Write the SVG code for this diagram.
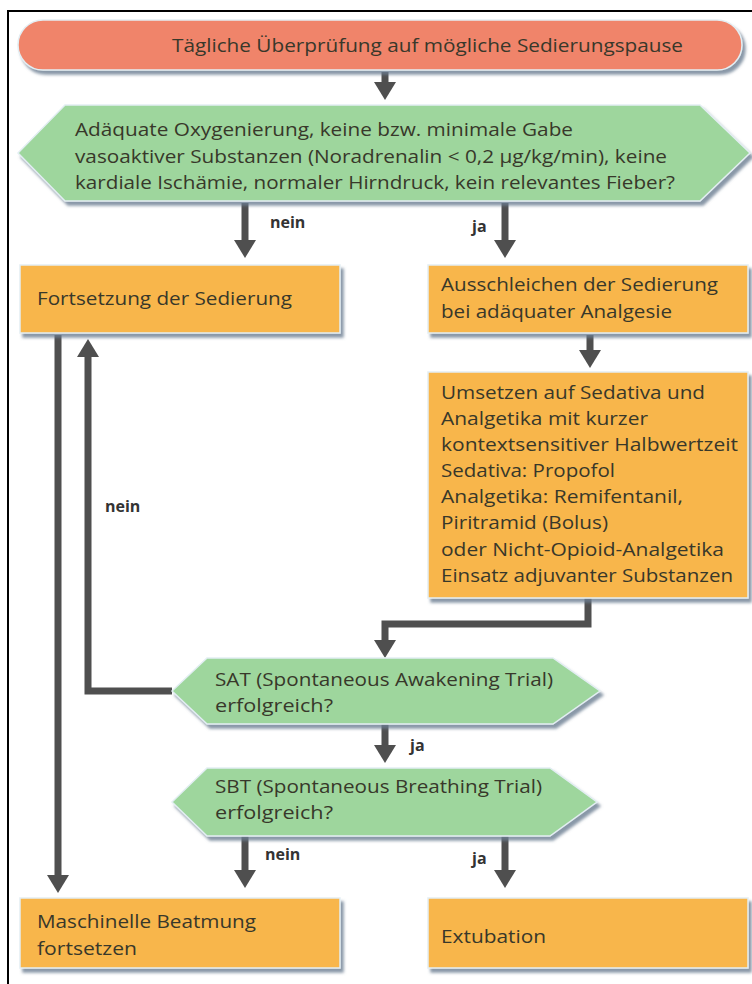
<svg xmlns="http://www.w3.org/2000/svg" width="752" height="984" viewBox="0 0 752 984">
<style>
.t{font-family:"Open Sans","Liberation Sans",sans-serif;font-size:19px;fill:#38382a;}
.tt{font-family:"Open Sans","Liberation Sans",sans-serif;font-size:19px;fill:#38382a;}
.lb{font-family:"Open Sans","Liberation Sans",sans-serif;font-size:16px;font-weight:bold;fill:#333;}
.box{fill:#f8b64c;stroke:#e3eef3;stroke-width:1.5;filter:url(#sh);}
.hex{fill:#9ed69d;stroke:#e3eef3;stroke-width:1.5;filter:url(#sh);}
.pill{fill:#f0846a;stroke:#e3eef3;stroke-width:1.5;filter:url(#sh);}
.c{fill:none;stroke:#4f4f4f;stroke-width:7;marker-end:url(#ah);}
</style>
<defs>
<filter id="sh" x="-5%" y="-10%" width="115%" height="130%">
<feDropShadow dx="3" dy="4" stdDeviation="1.5" flood-color="#6a7d92" flood-opacity="0.8"/>
</filter>
<marker id="ah" viewBox="0 0 18 22" refX="0" refY="11" markerWidth="18" markerHeight="22" markerUnits="userSpaceOnUse" orient="auto">
<path d="M0,0 L18,11 L0,22 z" fill="#4f4f4f"/>
</marker>
</defs>
<rect x="0" y="0" width="752" height="984" fill="#fff"/>
<rect x="8" y="11" width="770" height="1000" fill="none" stroke="#000" stroke-width="2"/>

<g id="connectors">
<path class="c" d="M385,72 V82"/>
<path class="c" d="M245,203 V240"/>
<path class="c" d="M505,203 V240"/>
<path class="c" d="M590,335 V350"/>
<path class="c" d="M588,598 V624 H385 V640"/>
<path class="c" d="M172,691 H88 V357"/>
<path class="c" d="M58,335 V875"/>
<path class="c" d="M385,724 V745"/>
<path class="c" d="M245,836 V870"/>
<path class="c" d="M505,836 V870"/>
<text class="lb" x="270" y="228">nein</text>
<text class="lb" x="472" y="232">ja</text>
<text class="lb" x="105" y="512">nein</text>
<text class="lb" x="410" y="751">ja</text>
<text class="lb" x="265" y="860">nein</text>
<text class="lb" x="472" y="864">ja</text>
</g>

<g id="start">
<rect class="pill" x="18" y="20" width="724" height="50" rx="25"/>
<text class="tt" x="172" y="52" textLength="511" lengthAdjust="spacingAndGlyphs">Tägliche Überprüfung auf mögliche Sedierungspause</text>
</g>

<g id="check">
<polygon class="hex" points="18,153 65,105 700,105 750,153 700,201 65,201"/>
<text class="t" x="75" y="136" textLength="498" lengthAdjust="spacingAndGlyphs">Adäquate Oxygenierung, keine bzw. minimale Gabe</text>
<text class="t" x="75" y="163" textLength="592" lengthAdjust="spacingAndGlyphs">vasoaktiver Substanzen (Noradrenalin &lt; 0,2 µg/kg/min), keine</text>
<text class="t" x="75" y="189" textLength="600" lengthAdjust="spacingAndGlyphs">kardiale Ischämie, normaler Hirndruck, kein relevantes Fieber?</text>
</g>

<g id="fortsetzung">
<rect class="box" x="20" y="265" width="320" height="68"/>
<text class="t" x="37" y="305" textLength="255" lengthAdjust="spacingAndGlyphs">Fortsetzung der Sedierung</text>
</g>

<g id="ausschleichen">
<rect class="box" x="428" y="265" width="320" height="68"/>
<text class="t" x="441" y="291" textLength="277" lengthAdjust="spacingAndGlyphs">Ausschleichen der Sedierung</text>
<text class="t" x="441" y="318" textLength="231" lengthAdjust="spacingAndGlyphs">bei adäquater Analgesie</text>
</g>

<g id="umsetzen">
<rect class="box" x="428" y="372" width="320" height="226"/>
<text class="t" x="441" y="399" textLength="264" lengthAdjust="spacingAndGlyphs">Umsetzen auf Sedativa und</text>
<text class="t" x="441" y="425" textLength="207" lengthAdjust="spacingAndGlyphs">Analgetika mit kurzer</text>
<text class="t" x="441" y="451" textLength="297" lengthAdjust="spacingAndGlyphs">kontextsensitiver Halbwertzeit</text>
<text class="t" x="441" y="477" textLength="174" lengthAdjust="spacingAndGlyphs">Sedativa: Propofol</text>
<text class="t" x="441" y="503" textLength="242" lengthAdjust="spacingAndGlyphs">Analgetika: Remifentanil,</text>
<text class="t" x="441" y="529" textLength="167" lengthAdjust="spacingAndGlyphs">Piritramid (Bolus)</text>
<text class="t" x="441" y="556" textLength="283" lengthAdjust="spacingAndGlyphs">oder Nicht-Opioid-Analgetika</text>
<text class="t" x="441" y="582" textLength="292" lengthAdjust="spacingAndGlyphs">Einsatz adjuvanter Substanzen</text>
</g>

<g id="sat">
<polygon class="hex" points="172,691 207,658 553,658 600,691 553,724 207,724"/>
<text class="t" x="215" y="686" textLength="338" lengthAdjust="spacingAndGlyphs">SAT (Spontaneous Awakening Trial)</text>
<text class="t" x="215" y="712" textLength="118" lengthAdjust="spacingAndGlyphs">erfolgreich?</text>
</g>

<g id="sbt">
<polygon class="hex" points="172,802 207,768 550,768 597,802 550,836 207,836"/>
<text class="t" x="215" y="793" textLength="327" lengthAdjust="spacingAndGlyphs">SBT (Spontaneous Breathing Trial)</text>
<text class="t" x="215" y="819" textLength="118" lengthAdjust="spacingAndGlyphs">erfolgreich?</text>
</g>

<g id="beatmung">
<rect class="box" x="20" y="898" width="320" height="70"/>
<text class="t" x="37" y="928" textLength="219" lengthAdjust="spacingAndGlyphs">Maschinelle Beatmung</text>
<text class="t" x="37" y="955" textLength="100" lengthAdjust="spacingAndGlyphs">fortsetzen</text>
</g>

<g id="extubation">
<rect class="box" x="428" y="898" width="320" height="70"/>
<text class="t" x="441" y="943" textLength="105" lengthAdjust="spacingAndGlyphs">Extubation</text>
</g>
</svg>
